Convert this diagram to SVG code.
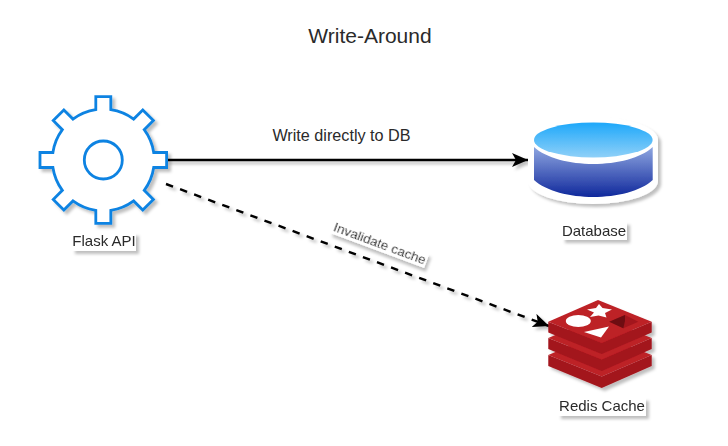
<svg xmlns="http://www.w3.org/2000/svg" width="728" height="446" viewBox="0 0 728 446">
<style>
text{font-family:"Liberation Sans",Arial,sans-serif;fill:#2a2a2a;text-anchor:middle}
.lbl{font-size:15px}
.bg{fill:#fff}
.conn{fill:none;stroke:#000;stroke-width:2.4}
.head{fill:#000}
.side{fill:#a3161d}
.face{fill:#bd2026}
</style>
<defs>
<filter id="sh" filterUnits="userSpaceOnUse" x="0" y="0" width="728" height="446">
<feDropShadow dx="3" dy="3" stdDeviation="1.8" flood-color="#000" flood-opacity="0.25"/>
</filter>
<marker id="arrow" markerUnits="userSpaceOnUse" markerWidth="18" markerHeight="14" refX="16" refY="7" orient="auto">
<path class="head" d="M0 0L16 7L0 14L4 7Z"/>
</marker>
<linearGradient id="dbTop" x1="0" y1="0" x2="0" y2="1"><stop offset="0" stop-color="#1ea8fa"/><stop offset="1" stop-color="#8fd0f8"/></linearGradient>
<linearGradient id="dbBody" x1="0" y1="0" x2="0" y2="1"><stop offset="0" stop-color="#8ea6e0"/><stop offset="1" stop-color="#10299c"/></linearGradient>
</defs>
<rect width="728" height="446" fill="#fff"/>
<g id="title"><text x="370" y="43" font-size="21">Write-Around</text></g>
<g id="connectors" filter="url(#sh)">
<path class="conn" d="M166 160H528" marker-end="url(#arrow)"/>
<path class="conn" stroke-dasharray="7.500 7.500" d="M166 184L549 326" marker-end="url(#arrow)"/>
</g>
<g id="edge-labels">
<text x="341.500" y="141" font-size="16.200">Write directly to DB</text>
<g filter="url(#sh)" transform="rotate(20.4 380 243)">
<rect class="bg" x="330" y="236" width="100" height="15"/>
<text x="380" y="248" font-size="13.500">Invalidate cache</text>
</g>
</g>
<g id="flask-api" filter="url(#sh)">
<path transform="translate(103.3 160)" fill="#fff" stroke="#0f83e2" stroke-width="2.8" d="M-7.5 -50.4V-63.3H7.5V-50.4A51 51 0 0 1 30.34 -40.94L39.46 -50.06L50.06 -39.46L40.94 -30.34A51 51 0 0 1 50.4 -7.5H63.3V7.5H50.4A51 51 0 0 1 40.94 30.34L50.06 39.46L39.46 50.06L30.34 40.94A51 51 0 0 1 7.5 50.4V63.3H-7.5V50.4A51 51 0 0 1 -30.34 40.94L-39.46 50.06L-50.06 39.46L-40.94 30.34A51 51 0 0 1 -50.4 7.5H-63.3V-7.5H-50.4A51 51 0 0 1 -40.94 -30.34L-50.06 -39.46L-39.46 -50.06L-30.34 -40.94A51 51 0 0 1 -7.5 -50.4Z"/>
<circle cx="103.3" cy="160" r="19" fill="#fff" stroke="#0f83e2" stroke-width="2.8"/>
<rect class="bg" x="72" y="233" width="64" height="18"/>
<text class="lbl" x="104" y="246">Flask API</text>
</g>
<g id="database" filter="url(#sh)">
<path fill="#fff" d="M528 140A65 23 0 0 1 658 140V181A65 23 0 0 1 528 181Z"/>
<path fill="url(#dbBody)" d="M534 147C546 158 570 164 593.300 164C617 164 641 158 652.700 147V180C641 191 617 197 593.300 197C570 197 546 191 534 180Z"/>
<ellipse cx="593.300" cy="140" rx="59.300" ry="17.500" fill="url(#dbTop)"/>
<rect class="bg" x="562" y="222" width="65" height="18"/>
<text class="lbl" x="594" y="236">Database</text>
</g>
<g id="redis-cache">
<g filter="url(#sh)">
<path class="side" d="M548.300 355L601.700 376.500L651.700 355V366L601.700 388L548.300 366Z"/>
<path class="face" d="M548.300 355L598 334L651.700 355L601.700 376.500Z"/>
<path class="side" d="M548.300 338L601.700 359.500L651.700 338V349L601.700 371L548.300 349Z"/>
<path class="face" d="M548.300 338L598 317L651.700 338L601.700 359.500Z"/>
<path class="side" d="M548.300 321.700L601.700 343L651.700 321.700V332.500L601.700 354L548.300 332.500Z"/>
<path class="face" d="M548.300 321.700L598 300L651.700 321.700L601.700 343Z"/>
</g>
<ellipse cx="578.300" cy="321" rx="12.500" ry="6" fill="#fff"/>
<path fill="#fff" d="M599 304L602.500 308L612 309.500L605 313L606.500 317.500L598.500 315.500L590 317L594 312.500L587 309.500L596 308Z"/>
<path fill="#fff" d="M584 332L609 326.500L601 337.500Z"/>
<path fill="#a3161d" d="M609.300 321.700L625 315L638.300 321.700L623.300 328.300Z"/>
<path fill="#6e0d12" d="M609.300 321.700L625 315V321L623.300 328.300Z"/>
<g filter="url(#sh)">
<rect class="bg" x="558" y="398" width="88" height="18"/>
<text class="lbl" x="602" y="411">Redis Cache</text>
</g>
</g>
</svg>
